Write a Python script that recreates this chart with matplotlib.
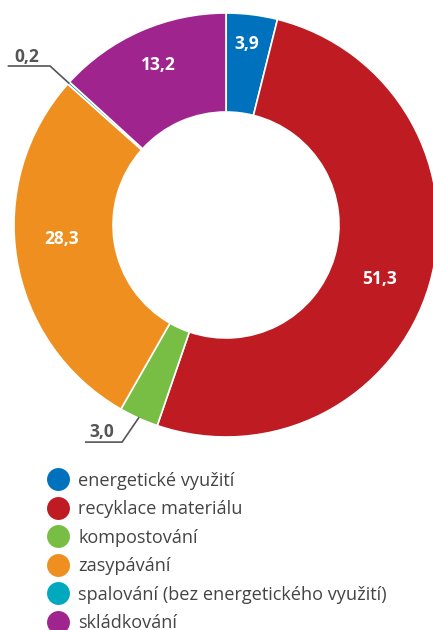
import matplotlib
matplotlib.use("Agg")
import matplotlib.pyplot as plt
from matplotlib.lines import Line2D
import numpy as np

categories = ["energetické využití", "recyklace materiálu", "kompostování",
              "zasypávání", "spalování (bez energetického využití)", "skládkování"]
values = [3.9, 51.3, 3.0, 28.3, 0.2, 13.2]
colors = ["#0071BC", "#BE1B22", "#78BE44", "#EE8F1F", "#00A9BD", "#A0248E"]

plt.rcParams['font.family'] = ['Open Sans', 'DejaVu Sans']

W, H = 433, 630
cx, cy, R = 226, 225, 212
fig = plt.figure(figsize=(W / 100, H / 100), dpi=100)
ax = fig.add_axes([(cx - R) / W, 1 - (cy + R) / H, 2 * R / W, 2 * R / H])

wedges, _ = ax.pie(values, colors=colors, startangle=90, counterclock=False,
                   radius=1.0,
                   wedgeprops=dict(width=0.467, edgecolor='white', linewidth=1.2))
ax.set_xlim(-1, 1)
ax.set_ylim(-1, 1)
ax.set_aspect('equal')
ax.axis('off')

def fmt(v):
    return f"{v:.1f}".replace('.', ',')

# inside label radius / angle offset (deg) per wedge; None = outside label
inside = {0: (0.86, 0.5), 1: (0.77, -3.0), 3: (0.78, -4.3), 5: (0.82, -0.9)}
# outside labels: elbow and end in data units, text anchor
outside = {4: dict(elbow=(-0.83, 0.75), end=(-1.03, 0.75), text=(-0.94, 0.75)),
           2: dict(elbow=(-0.49, -1.024), end=(-0.665, -1.024), text=(-0.585, -1.02))}

for i, (w, v) in enumerate(zip(wedges, values)):
    th = np.deg2rad((w.theta1 + w.theta2) / 2)
    if i in inside:
        r, off = inside[i]
        t = th + np.deg2rad(off)
        ax.text(r * np.cos(t), r * np.sin(t), fmt(v), ha='center', va='center',
                color='white', fontsize=12.5, fontweight='bold')
    else:
        o = outside[i]
        p = (0.995 * np.cos(th), 0.995 * np.sin(th))
        ax.plot([p[0], o['elbow'][0], o['end'][0]], [p[1], o['elbow'][1], o['end'][1]],
                color='#555555', lw=1.2, clip_on=False, solid_capstyle='butt')
        ax.text(o['text'][0], o['text'][1], fmt(v), ha='center', va='bottom',
                color='#555555', fontsize=12.5, fontweight='bold', clip_on=False)

handles = [Line2D([], [], marker='o', ls='', markersize=16.5, markerfacecolor=c,
                  markeredgewidth=0) for c in colors]
fig.legend(handles, categories, loc='upper left',
           bbox_to_anchor=(49.0 / W, 1 - 471.5 / H), frameon=False, fontsize=13.1,
           labelcolor='#444444', handlelength=1.0, handletextpad=0.6,
           labelspacing=0.58, borderaxespad=0, borderpad=0)

fig.savefig("out.png", dpi=100)
